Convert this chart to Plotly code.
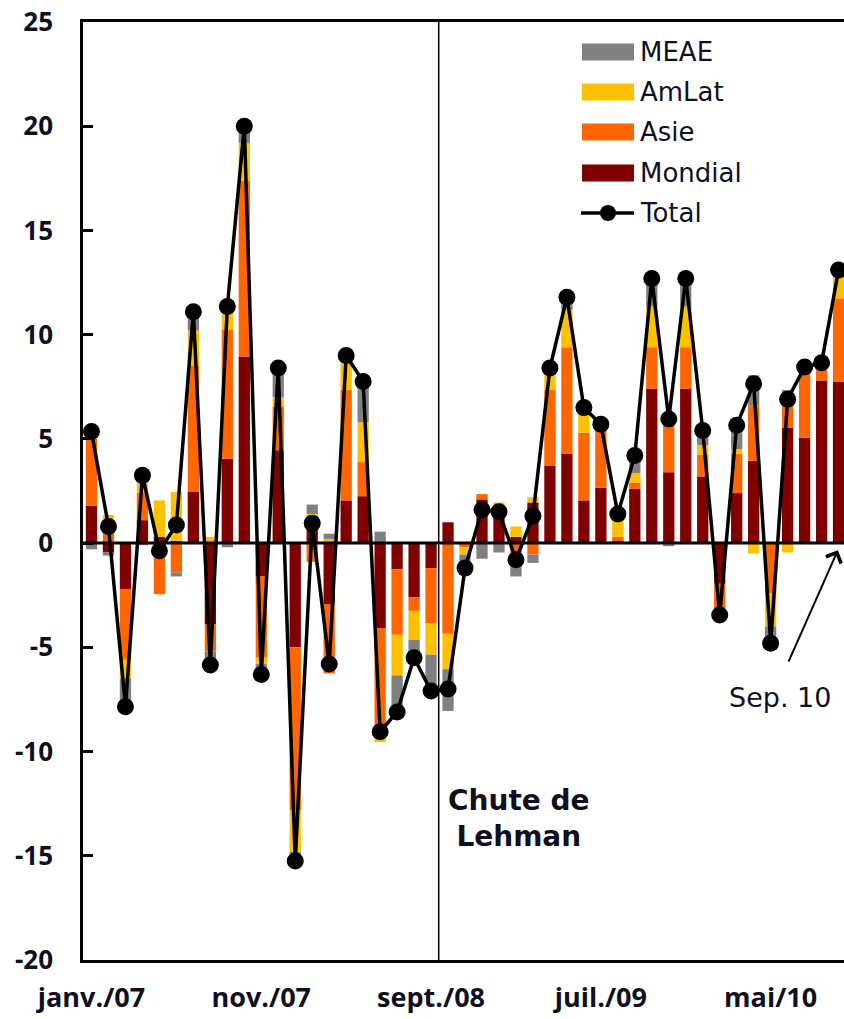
import plotly.graph_objects as go

# ---- data (monthly, janv. 2007 -> sept. 2010) ----
months_idx = list(range(45))
mondial = [1.8, -0.45, -2.2, 1.1, 0.3, 0.1, 2.45, -3.9, 4.05, 8.95,
           -1.6, 4.45, -5.0, 1.3, -2.95, 2.05, 2.25, -4.1, -1.25, -2.6,
           -1.2, 1.0, 0.0, 2.1, 1.8, 0.3, 1.95, 3.7, 4.3, 2.05,
           2.65, 0.1, 2.6, 7.4, 3.4, 7.4, 3.2, -1.95, 2.4, 3.95,
           0.0, 5.55, 5.05, 7.8, 7.75]
asie = [3.2, 1.0, -3.4, 1.3, -2.45, -1.4, 6.05, -1.3, 6.2, 8.45,
        -3.9, 2.1, -7.8, -0.9, -3.3, 5.3, 1.65, -5.2, -3.15, -0.65,
        -2.65, -4.35, -0.2, 0.25, 0.0, -0.5, -0.55, 3.65, 5.1, 3.25,
        2.95, 0.2, 0.3, 2.0, 2.75, 2.0, 1.05, -1.2, 1.9, 2.65,
        -2.4, 1.5, 3.4, 0.55, 4.0]
amlat = [0.35, 0.35, -0.9, 0.9, 1.75, 2.35, 1.7, 0.3, 1.1, 1.8,
         -0.3, 0.45, -2.0, 0.1, 0.2, 1.3, 1.9, -0.25, -1.95, -1.4,
         -1.5, -1.7, -0.35, 0.0, 0.15, 0.5, 0.25, 1.0, 1.8, 1.2,
         0.1, 1.1, 0.45, 1.95, 0.0, 1.95, 0.45, 0.0, 0.2, -0.5,
         -1.6, -0.45, 0.0, 0.3, 1.0]
meae = [-0.3, -0.15, -1.3, -0.1, 0.0, -0.2, 0.9, -0.7, -0.2, 0.8,
        -0.5, 1.4, -0.45, 0.45, 0.25, 0.3, 1.75, 0.55, -1.7, -0.85,
        -1.75, -2.0, -0.65, -0.75, -0.45, -1.1, -0.4, 0.0, 0.55, 0.0,
        0.0, 0.0, 0.85, 1.35, -0.15, 1.35, 0.7, -0.4, 1.15, 1.45,
        -0.8, 0.3, 0.0, 0.0, 0.35]
total = [5.35, 0.8, -7.85, 3.25, -0.37, 0.87, 11.1, -5.85, 11.35, 20.0,
         -6.3, 8.4, -15.25, 0.95, -5.8, 9.0, 7.75, -9.05, -8.1, -5.5,
         -7.1, -7.0, -1.2, 1.6, 1.5, -0.8, 1.3, 8.4, 11.8, 6.5,
         5.7, 1.4, 4.2, 12.7, 5.95, 12.7, 5.4, -3.45, 5.65, 7.65,
         -4.8, 6.9, 8.45, 8.65, 13.1]
tick_idx = [0, 10, 20, 30, 40]
tick_labels = ["janv./07", "nov./07", "sept./08", "juil./09", "mai/10"]
y_ticks = [-20, -15, -10, -5, 0, 5, 10, 15, 20, 25]
y_tick_labels = ["-20", "-15", "-10", "-5", "0", "5", "10", "15", "20", "25"]
lehman_pos = 20.45
sep10_idx = 43.96
sep10_val = -0.34

series = [("Mondial", mondial, "#800000"),
          ("Asie", asie, "#FF6600"),
          ("AmLat", amlat, "#FFC000"),
          ("MEAE", meae, "#808080")]

TXT = "#0f0f1f"
W, H = 844, 1019
L, R, T, B = 83, 0, 22, 59
PW, PH = W - L - R, H - T - B


def px(x):
    return (x - L) / PW


def py(y):
    return (H - B - y) / PH


fig = go.Figure()
for name, vals, col in series:
    fig.add_trace(go.Bar(x=months_idx, y=vals, name=name, marker_color=col,
                         marker_line_width=0, showlegend=False))
fig.add_trace(go.Scatter(x=months_idx, y=total, name="Total", mode="lines+markers",
                         line=dict(color="black", width=3.5),
                         marker=dict(color="black", size=17), showlegend=False))

shapes = [
    dict(type="line", xref="paper", yref="y", x0=0, x1=1, y0=0, y1=0,
         line=dict(color="black", width=3), layer="above"),
    dict(type="line", xref="x", yref="paper", x0=lehman_pos, x1=lehman_pos, y0=0, y1=1,
         line=dict(color="black", width=1.5), layer="above"),
]
# custom legend
leg = [("MEAE", "#808080", 52), ("AmLat", "#FFC000", 92),
       ("Asie", "#FF6600", 132), ("Mondial", "#800000", 173)]
annotations = []
for name, col, yc in leg:
    shapes.append(dict(type="rect", xref="paper", yref="paper",
                       x0=px(582), x1=px(634), y0=py(yc + 8.5), y1=py(yc - 8.5),
                       fillcolor=col, line=dict(width=0)))
    annotations.append(dict(xref="paper", yref="paper", x=px(638), y=py(yc),
                            text=name, showarrow=False, xanchor="left", yanchor="middle",
                            font=dict(family="DejaVu Sans", size=26, color=TXT)))
shapes.append(dict(type="line", xref="paper", yref="paper", x0=px(581), x1=px(634),
                   y0=py(213), y1=py(213), line=dict(color="black", width=3.5)))
shapes.append(dict(type="circle", xref="paper", yref="paper", x0=px(600), x1=px(616),
                   y0=py(221), y1=py(205), fillcolor="black", line=dict(width=0)))
annotations.append(dict(xref="paper", yref="paper", x=px(638), y=py(213),
                        text="Total", showarrow=False, xanchor="left", yanchor="middle",
                        font=dict(family="DejaVu Sans", size=26, color=TXT)))

annotations.append(dict(xref="paper", yref="paper", x=px(519), y=py(818),
                        text="<b>Chute de<br>Lehman</b>", showarrow=False, align="center",
                        xanchor="center", yanchor="middle",
                        font=dict(family="DejaVu Sans", size=28, color=TXT)))
annotations.append(dict(xref="x", yref="y", x=sep10_idx, y=sep10_val, text="",
                        showarrow=True, arrowhead=4, arrowsize=1.6, arrowwidth=2,
                        arrowcolor="black", ax=-50, ay=113, standoff=0))
annotations.append(dict(xref="paper", yref="paper", x=px(780), y=py(697),
                        text="Sep. 10", showarrow=False, xanchor="center", yanchor="middle",
                        font=dict(family="DejaVu Sans", size=27, color=TXT)))

fig.update_layout(
    width=W, height=H, barmode="relative", bargap=0.335,
    margin=dict(l=L, r=R, t=T, b=B, autoexpand=False),
    paper_bgcolor="white", plot_bgcolor="white",
    shapes=shapes, annotations=annotations, showlegend=False,
    xaxis=dict(range=[-0.5, 44.32], tickvals=tick_idx, ticktext=tick_labels,
               ticks="", showgrid=False, zeroline=False, showline=True, mirror=True,
               linecolor="black", linewidth=2.5, ticklabelstandoff=12,
               tickfont=dict(family="Open Sans", size=27, color=TXT, weight="bold")),
    yaxis=dict(range=[-20, 25], tickvals=y_ticks, ticktext=y_tick_labels,
               ticks="inside", ticklen=10,
               tickwidth=2.5, tickcolor="black", showgrid=False, zeroline=False,
               showline=True, linecolor="black", linewidth=2.5, ticklabelstandoff=22,
               tickfont=dict(family="Open Sans", size=26, color=TXT, weight="bold")),
)
fig.write_html("out.html", config={"displayModeBar": False},
               post_script="document.body.style.margin='0';document.body.style.overflow='hidden';")
